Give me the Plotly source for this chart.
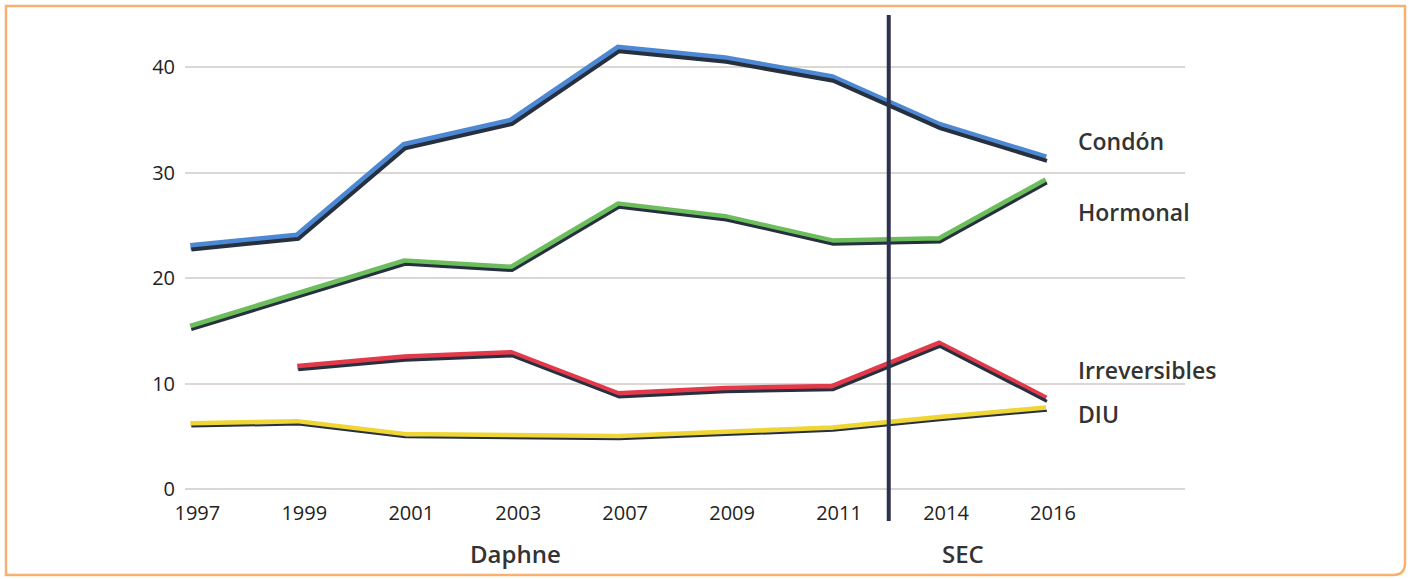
import plotly.graph_objects as go

years = ["1997", "1999", "2001", "2003", "2007", "2009", "2011", "2014", "2016"]
condon = [23.0, 24.0, 32.6, 34.9, 41.8, 40.8, 39.0, 34.5, 31.4]
hormonal = [15.4, 18.5, 21.6, 21.0, 27.0, 25.8, 23.5, 23.7, 29.3]
irreversibles = [None, 11.6, 12.5, 12.9, 9.0, 9.5, 9.7, 13.8, 8.6]
diu = [6.2, 6.4, 5.2, 5.1, 5.0, 5.4, 5.8, 6.8, 7.7]

series = [
    ("Condón", condon, "#4d88d4", 7, 33.0),
    ("Hormonal", hormonal, "#6cbe5c", 6, 26.3),
    ("Irreversibles", irreversibles, "#e23a4b", 6, 11.3),
    ("DIU", diu, "#efd634", 5, 7.1),
]
period_labels = ["Daphne", "SEC"]
period_pos = [3.04, 7.22]
divider_pos = 6.53

x = list(range(len(years)))
XR = [-0.05, 9.3]
YR = [0, 44]
px_per_x = 1000 / (XR[1] - XR[0])
px_per_y = 464 / (YR[1] - YR[0])

fig = go.Figure()
# thin dark edge on the lower side of each line (overlay axes shifted a few pixels)
for name, vals, col, w, ly in series:
    fig.add_trace(go.Scatter(x=x, y=vals, mode="lines", xaxis="x2", yaxis="y2",
                             line=dict(color="#26303f", width=w - 3), hoverinfo="skip",
                             showlegend=False))
for name, vals, col, w, ly in series:
    fig.add_trace(go.Scatter(x=x, y=vals, mode="lines", name=name,
                             line=dict(color=col, width=w), showlegend=False))

fig.update_layout(
    width=1410, height=579,
    margin=dict(l=185, r=225, t=25, b=90),
    paper_bgcolor="white", plot_bgcolor="white",
    font=dict(family="Open Sans", color="#222"),
    xaxis=dict(range=XR, tickvals=x, ticktext=years, showgrid=False, zeroline=False,
               showline=False, ticks="", tickfont=dict(size=20, color="#222"),
               ticklabelshift=7, ticklabelstandoff=10),
    yaxis=dict(range=YR, tickvals=[0, 10, 20, 30, 40], showgrid=True,
               gridcolor="#dcd6d4", gridwidth=2, zeroline=True, zerolinecolor="#dcd6d4",
               zerolinewidth=2, showline=False,
               ticks="", ticklabelstandoff=9, tickfont=dict(size=20, color="#222")),
    xaxis2=dict(range=[XR[0] - 1.0 / px_per_x, XR[1] - 1.0 / px_per_x], overlaying="x",
                visible=False),
    yaxis2=dict(range=[YR[0] + 3.0 / px_per_y, YR[1] + 3.0 / px_per_y], overlaying="y",
                visible=False),
)

for name, vals, col, w, ly in series:
    fig.add_annotation(x=8.28, y=ly, text=name, showarrow=False,
                       xanchor="left", yanchor="middle",
                       font=dict(size=23, color="#333", family="Open Sans", weight=600))

for lab, pos in zip(period_labels, period_pos):
    fig.add_annotation(x=pos, y=-0.138, yref="paper", text=lab,
                       showarrow=False, xanchor="center", yanchor="middle",
                       font=dict(size=24, color="#333", family="Open Sans", weight=600))

# divider line
fig.add_shape(type="line", xref="x", yref="paper", x0=divider_pos, x1=divider_pos,
              y0=(489 - 521) / 464, y1=(489 - 15) / 464,
              line=dict(color="#2d3250", width=4))

# orange frame
def fx(p):
    return (p - 185) / 1000
def fy(p):
    return (489 - p) / 464
r = 12
path = (f"M {fx(6)},{fy(6)} L {fx(1405)},{fy(6)} L {fx(1405)},{fy(575 - r)} "
        f"Q {fx(1405)},{fy(575)} {fx(1405 - r)},{fy(575)} L {fx(6)},{fy(575)} Z")
fig.add_shape(type="path", xref="paper", yref="paper", path=path,
              line=dict(color="#f8b070", width=2.5), fillcolor="rgba(0,0,0,0)")

fig.write_html("out.html")
